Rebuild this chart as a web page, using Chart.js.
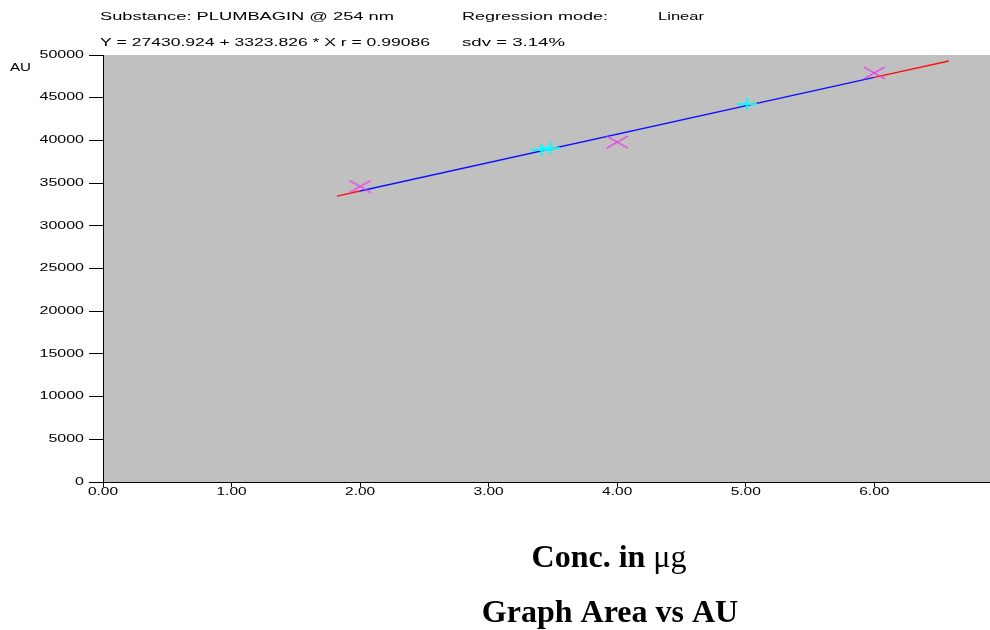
<!DOCTYPE html>
<html>
<head>
<meta charset="utf-8">
<script src="https://cdn.jsdelivr.net/npm/chart.js@4.4.1/dist/chart.umd.min.js"></script>
<style>
  body { margin: 0; background: #fff; }
  canvas { display: block; }
</style>
</head>
<body>
<canvas id="calibChart" width="990" height="630"></canvas>
<script>
// tick labels
const xTicks = [0, 1, 2, 3, 4, 5, 6]
const yTicks = [0, 5000, 10000, 15000, 20000, 25000, 30000, 35000, 40000, 45000, 50000]

// standards (magenta crosses)
const stdConc = [2, 4, 6]
const stdArea = [34600, 39800, 47900]

// samples (cyan marks on the line)
const sampleConc = [3.41, 3.48, 5.01]
const sampleArea = [38900, 39100, 44250]

// regression line: blue over the standards, red beyond them
const fitStdX = [2, 6]
const fitStdY = [34080, 47375]
const fitLowX = [1.82, 2]
const fitLowY = [33480, 34080]
const fitHighX = [6, 6.58]
const fitHighY = [47375, 49300]

const headerLines = [
    { text: 'Substance: PLUMBAGIN @ 254 nm', x: 100, y: 17, w: 294 },
    { text: 'Regression mode:', x: 462, y: 17, w: 146 },
    { text: 'Linear', x: 658, y: 17, w: 46 },
    { text: 'Y = 27430.924 + 3323.826 * X r = 0.99086', x: 100, y: 43, w: 330 },
    { text: 'sdv = 3.14%', x: 462, y: 43, w: 103 },
    { text: 'AU', x: 10, y: 68, w: 21 }
]

function toPoints(xs, ys) {
    return xs.map((x, i) => ({ x: x, y: ys[i] }))
}

// flattened X marker like the original export
function makeCross(w, h, color) {
    const c = document.createElement('canvas')
    c.width = w
    c.height = h
    const g = c.getContext('2d')
    g.strokeStyle = color
    g.lineWidth = 1.4
    g.beginPath()
    g.moveTo(1, 1); g.lineTo(w - 1, h - 1)
    g.moveTo(w - 1, 1); g.lineTo(1, h - 1)
    g.stroke()
    return c
}

function makePlus(w, h, color) {
    const c = document.createElement('canvas')
    c.width = w
    c.height = h
    const g = c.getContext('2d')
    g.strokeStyle = color
    g.lineWidth = 2
    g.beginPath()
    g.moveTo(0, h / 2); g.lineTo(w, h / 2)
    g.moveTo(w / 2, 0); g.lineTo(w / 2, h)
    g.stroke()
    return c
}

function stretchText(ctx, text, x, y, align, sx) {
    ctx.save()
    ctx.translate(x, y)
    ctx.scale(sx, 1)
    ctx.textAlign = align
    ctx.textBaseline = 'middle'
    ctx.fillText(text, 0, 0)
    ctx.restore()
}

// stretch header text to the width it has in the picture
function fitText(ctx, text, x, y, w) {
    const m = ctx.measureText(text).width
    stretchText(ctx, text, x, y, 'left', w / m)
}

const plotBackground = {
    id: 'plotBackground',
    beforeDraw: (chart) => {
        const a = chart.chartArea
        const ctx = chart.ctx
        ctx.save()
        ctx.fillStyle = '#c0c0c0'
        ctx.fillRect(a.left, a.top, a.right - a.left, a.bottom - a.top)
        ctx.restore()
    }
}

const stretchedLabels = {
    id: 'stretchedLabels',
    afterDraw: (chart) => {
        const ctx = chart.ctx
        const xs = chart.scales.x
        const ys = chart.scales.y
        ctx.save()
        ctx.fillStyle = '#000'
        ctx.font = '10px "Liberation Sans", Arial, sans-serif'
        ys.ticks.forEach(t => {
            stretchText(ctx, String(t.value), 84, ys.getPixelForValue(t.value), 'right', 1.6)
        })
        xs.ticks.forEach(t => {
            stretchText(ctx, t.value.toFixed(2), xs.getPixelForValue(t.value), 492, 'center', 1.55)
        })
        headerLines.forEach(h => {
            fitText(ctx, h.text, h.x, h.y, h.w)
        })

        // captions under the chart
        ctx.textBaseline = 'alphabetic'
        ctx.textAlign = 'left'
        const boldFont = 'bold 32px "Liberation Serif", "Times New Roman", serif'
        const normFont = '32px "Liberation Serif", "Times New Roman", serif'
        ctx.font = boldFont
        const w1 = ctx.measureText('Conc. in ').width
        ctx.font = normFont
        const w2 = ctx.measureText('\u03bcg').width
        const x0 = 609 - (w1 + w2) / 2
        ctx.font = boldFont
        ctx.fillText('Conc. in ', x0, 567)
        ctx.font = normFont
        ctx.fillText('\u03bcg', x0 + w1, 567)
        ctx.font = boldFont
        ctx.textAlign = 'center'
        ctx.fillText('Graph Area vs AU', 610, 622)
        ctx.restore()
    }
}

const redLine = {
    showLine: true,
    borderColor: '#ff1010',
    borderWidth: 1.4,
    pointRadius: 0,
    order: 4
}

const DataCalib = {
    datasets: [
        Object.assign({ label: 'fit low', data: toPoints(fitLowX, fitLowY) }, redLine),
        Object.assign({ label: 'fit high', data: toPoints(fitHighX, fitHighY) }, redLine),
        {
            label: 'fit std',
            data: toPoints(fitStdX, fitStdY),
            showLine: true,
            borderColor: '#1010ff',
            borderWidth: 1.4,
            pointRadius: 0,
            order: 3
        },
        {
            label: 'standards',
            data: toPoints(stdConc, stdArea),
            pointStyle: makeCross(23, 14, '#ee33ee'),
            order: 2
        },
        {
            label: 'samples',
            data: toPoints(sampleConc, sampleArea),
            pointStyle: makePlus(20, 12, '#00ffff'),
            order: 1
        }
    ]
}

const ConfigCalib = {
    type: 'scatter',
    data: DataCalib,
    options: {
        responsive: false,
        animation: false,
        layout: {
            autoPadding: false,
            padding: { top: 55, left: 0, right: 0, bottom: 0 }
        },
        plugins: {
            legend: { display: false },
            tooltip: { enabled: false }
        },
        scales: {
            x: {
                type: 'linear',
                min: 0,
                max: 6.9,
                afterBuildTicks: (scale) => {
                    scale.ticks = xTicks.map(v => ({ value: v }))
                },
                afterFit: (scale) => { scale.height = 148 },
                ticks: { display: false },
                grid: { drawOnChartArea: false, drawTicks: true, tickLength: 5, color: '#000' },
                border: { display: true, color: '#000', width: 1 }
            },
            y: {
                type: 'linear',
                min: 0,
                max: 50000,
                afterBuildTicks: (scale) => {
                    scale.ticks = yTicks.map(v => ({ value: v }))
                },
                afterFit: (scale) => { scale.width = 103 },
                ticks: { display: false },
                grid: { drawOnChartArea: false, drawTicks: true, tickLength: 14, color: '#000' },
                border: { display: true, color: '#000', width: 1 }
            }
        }
    },
    plugins: [plotBackground, stretchedLabels]
}

const ChartCalib = new Chart(
    document.getElementById('calibChart'),
    ConfigCalib
)
</script>
</body>
</html>
